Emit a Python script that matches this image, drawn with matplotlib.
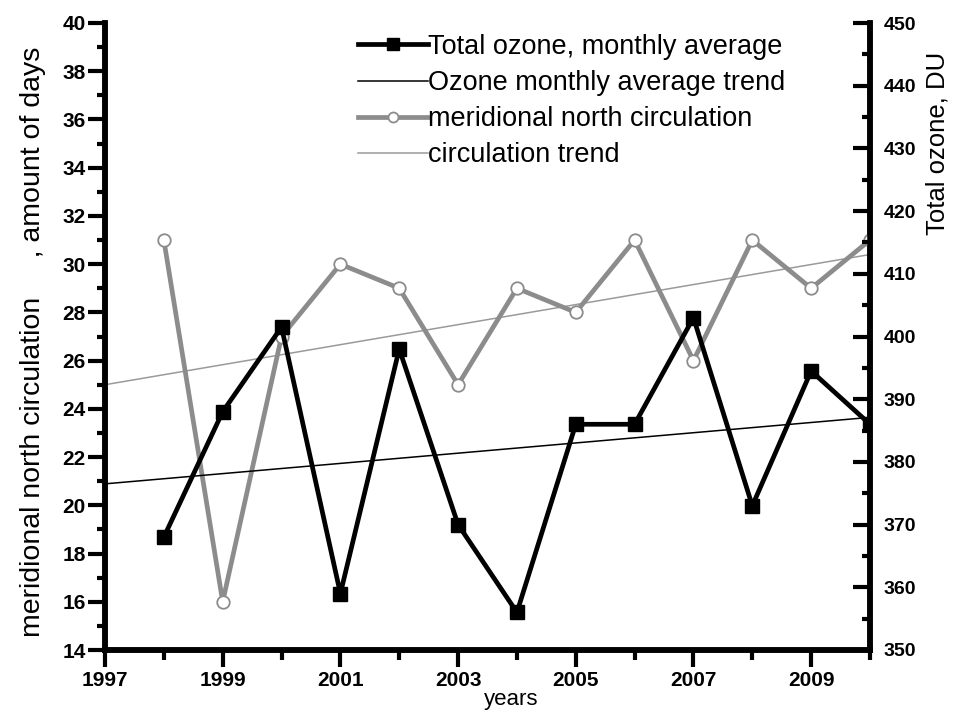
import matplotlib
matplotlib.use("Agg")
import matplotlib.pyplot as plt
from matplotlib.ticker import MultipleLocator

# ---- data ----
years = [1998, 1999, 2000, 2001, 2002, 2003, 2004, 2005, 2006, 2007, 2008, 2009, 2010]
ozone_du = [368, 388, 401.5, 359, 398, 370, 356, 386, 386, 403, 373, 394.5, 386]
circulation_days = [31, 16, 27, 30, 29, 25, 29, 28, 31, 26, 31, 29, 31]
trend_years = [1997, 2010]
ozone_trend = [376.5, 387.1]
circulation_trend = [25.0, 30.4]
x_ticks = [1997, 1999, 2001, 2003, 2005, 2007, 2009]

plt.rcParams["font.family"] = ["Liberation Sans", "DejaVu Sans"]

fig = plt.figure(figsize=(9.63, 7.10), dpi=100)
ax = fig.add_axes([105 / 963, 1 - 650 / 710, (870 - 105) / 963, (650 - 23) / 710])
ax2 = ax.twinx()

# circulation on left axis
l3, = ax.plot(years, circulation_days, color="#8c8c8c", lw=3.4, marker="o",
              ms=9, mfc="white", mec="#8c8c8c", mew=1.3,
              label="meridional north circulation", zorder=3)
l4, = ax.plot(trend_years, circulation_trend, color="#9a9a9a", lw=1.1,
              label="circulation trend", zorder=2)

# ozone on right axis
l1, = ax2.plot(years, ozone_du, color="black", lw=3.4, marker="s", ms=10,
               label="Total ozone, monthly average", zorder=3)
l2, = ax2.plot(trend_years, ozone_trend, color="black", lw=1.1,
               label="Ozone monthly average trend", zorder=2)

ax.set_xlim(1997, 2010)
ax.set_ylim(14, 40)
ax2.set_ylim(350, 450)

ax.set_xticks(x_ticks)
ax.xaxis.set_minor_locator(MultipleLocator(1))
ax.yaxis.set_major_locator(MultipleLocator(2))
ax.yaxis.set_minor_locator(MultipleLocator(1))
ax2.yaxis.set_major_locator(MultipleLocator(10))
ax2.yaxis.set_minor_locator(MultipleLocator(5))

for a in (ax, ax2):
    for s in a.spines.values():
        s.set_linewidth(4)
    a.spines["top"].set_visible(False)

ax.tick_params(axis="x", which="major", direction="out", length=12, width=3,
               labelsize=15, pad=3)
ax.tick_params(axis="x", which="minor", direction="out", length=7, width=3)
ax.tick_params(axis="y", which="major", direction="out", length=12, width=3,
               labelsize=15, pad=2)
ax.tick_params(axis="y", which="minor", direction="out", length=6, width=3)
ax2.tick_params(axis="y", which="major", direction="in", length=12, width=3,
                labelsize=14, pad=10)
ax2.tick_params(axis="y", which="minor", direction="in", length=6, width=3)
ax2.tick_params(axis="x", which="both", bottom=False, top=False)

for lab in ax.get_xticklabels() + ax.get_yticklabels() + ax2.get_yticklabels():
    lab.set_fontweight("bold")

ax.set_xlabel("years", fontsize=16, va="top")
ax.xaxis.set_label_coords((511 - 105) / 765, (650 - 689) / 627)
ax.set_ylabel("meridional north circulation     , amount of days", fontsize=20.5,
              va="center")
ax.yaxis.set_label_coords((33 - 105) / 765, (650 - 342) / 627)
ax2.set_ylabel("Total ozone, DU", fontsize=18.5, va="center", rotation=90)
ax2.yaxis.set_label_coords((937 - 105) / 765, (650 - 143) / 627)

leg = ax2.legend(handles=[l1, l2, l3, l4], loc="upper left",
                 bbox_to_anchor=((339 - 105) / 765, 1.0 + 8 / 627),
                 frameon=False, fontsize=19.5, markerscale=0.8,
                 handlelength=2.6, handletextpad=0.0, labelspacing=0.37,
                 borderaxespad=0.3)

fig.savefig("out.png", dpi=100)
